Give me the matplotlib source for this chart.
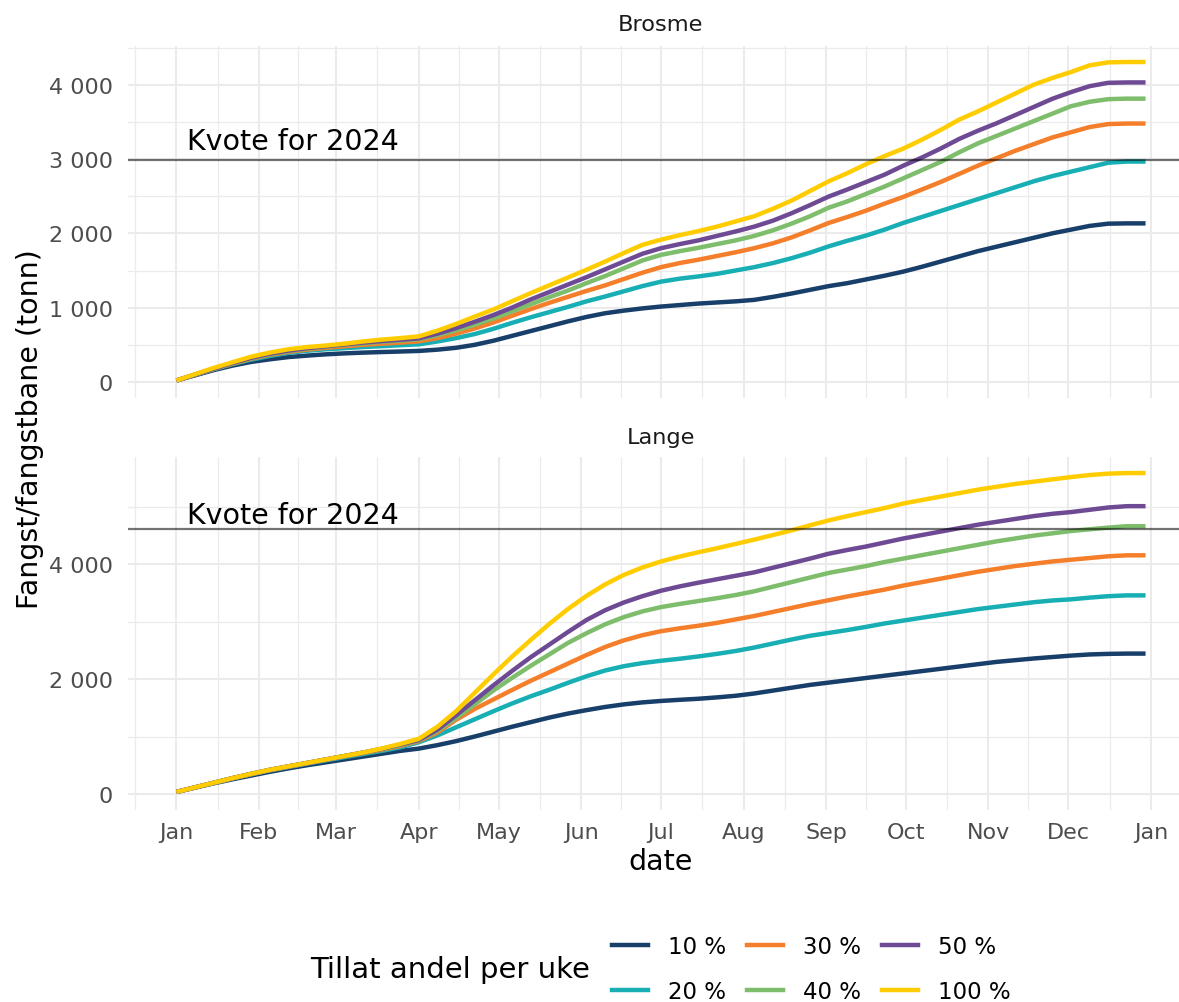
import numpy as np
import matplotlib
matplotlib.use("Agg")
import matplotlib.pyplot as plt
import matplotlib.dates as mdates
from matplotlib.ticker import FuncFormatter, FixedLocator
from matplotlib.lines import Line2D
import datetime as dt

# ---------------- data ----------------
start = dt.date(2024, 1, 1)
weeks = np.arange(53)
dates = [start + dt.timedelta(days=7 * int(w)) for w in weeks]

series_labels = ["10 %", "20 %", "30 %", "40 %", "50 %", "100 %"]
series_colors = ["#183F6A", "#17AFB4", "#F57E2B", "#7DBD6B", "#6D4A93", "#FFCC00"]

brosme_10 = [20, 90, 160, 220, 270, 305, 335, 355, 372, 385, 395, 403, 410, 418, 435, 460, 500, 555,
             620, 685, 750, 815, 875, 925, 960, 990, 1015, 1035, 1055, 1070, 1085, 1105, 1145, 1190,
             1240, 1290, 1330, 1380, 1430, 1485, 1550, 1620, 1690, 1760, 1820, 1880, 1940, 2000,
             2050, 2100, 2130, 2134, 2134]
brosme_20 = [20, 98, 172, 240, 300, 350, 392, 420, 440, 455, 470, 482, 495, 507, 545, 590, 645, 715,
             795, 870, 940, 1010, 1085, 1150, 1220, 1290, 1350, 1390, 1420, 1455, 1500, 1545, 1600,
             1665, 1740, 1825, 1900, 1970, 2050, 2140, 2220, 2300, 2380, 2460, 2540, 2620, 2700,
             2770, 2830, 2890, 2950, 2966, 2966]
brosme_30 = [20, 100, 175, 245, 312, 365, 405, 435, 460, 480, 500, 515, 530, 547, 590, 650, 720, 800,
             890, 980, 1065, 1145, 1225, 1300, 1385, 1470, 1545, 1600, 1645, 1695, 1745, 1800, 1865,
             1945, 2040, 2140, 2220, 2305, 2400, 2490, 2590, 2690, 2800, 2910, 3010, 3110, 3200,
             3290, 3360, 3430, 3470, 3477, 3477]
brosme_40 = [20, 100, 178, 250, 320, 372, 415, 448, 475, 500, 520, 540, 557, 575, 630, 695, 770, 855,
             950, 1045, 1140, 1230, 1330, 1425, 1530, 1635, 1710, 1760, 1805, 1855, 1905, 1965, 2040,
             2130, 2230, 2345, 2430, 2530, 2630, 2740, 2850, 2960, 3090, 3210, 3310, 3410, 3510,
             3610, 3710, 3770, 3805, 3812, 3812]
brosme_50 = [20, 100, 180, 255, 325, 380, 422, 455, 480, 505, 530, 550, 568, 587, 650, 725, 810, 900,
             1000, 1110, 1210, 1310, 1410, 1515, 1620, 1725, 1800, 1855, 1905, 1965, 2025, 2090, 2170,
             2270, 2380, 2495, 2590, 2690, 2790, 2910, 3020, 3140, 3270, 3380, 3480, 3590, 3700,
             3810, 3900, 3980, 4025, 4030, 4030]
brosme_100 = [20, 105, 190, 265, 340, 395, 440, 470, 490, 515, 545, 570, 590, 614, 690, 780, 880, 975,
              1085, 1195, 1300, 1405, 1510, 1620, 1735, 1845, 1915, 1975, 2030, 2090, 2160, 2230, 2330,
              2440, 2570, 2700, 2810, 2930, 3040, 3140, 3260, 3390, 3530, 3640, 3760, 3880, 4000,
              4090, 4170, 4260, 4300, 4305, 4305]

lange_10 = [35, 110, 185, 255, 320, 385, 445, 500, 550, 600, 650, 700, 750, 790, 850, 920, 1000, 1085,
            1170, 1250, 1330, 1400, 1460, 1515, 1560, 1595, 1620, 1640, 1658, 1682, 1710, 1750, 1800,
            1850, 1900, 1940, 1980, 2020, 2060, 2100, 2140, 2180, 2220, 2260, 2300, 2330, 2360,
            2385, 2410, 2430, 2440, 2445, 2445]
lange_20 = [35, 115, 193, 270, 342, 410, 470, 528, 585, 640, 695, 750, 810, 900, 1020, 1160, 1300, 1440,
            1575, 1700, 1815, 1935, 2050, 2150, 2225, 2280, 2320, 2355, 2395, 2440, 2490, 2550, 2620,
            2690, 2755, 2805, 2855, 2910, 2970, 3020, 3070, 3120, 3170, 3220, 3260, 3300, 3340,
            3370, 3390, 3420, 3445, 3459, 3459]
lange_30 = [35, 115, 195, 272, 345, 415, 475, 535, 595, 655, 712, 770, 835, 920, 1070, 1290, 1480, 1645,
            1810, 1970, 2120, 2270, 2420, 2560, 2675, 2765, 2835, 2885, 2930, 2980, 3040, 3100, 3170,
            3240, 3310, 3375, 3440, 3500, 3560, 3630, 3690, 3750, 3810, 3870, 3920, 3970, 4010,
            4050, 4080, 4110, 4140, 4157, 4157]
lange_40 = [35, 115, 195, 275, 350, 420, 480, 540, 600, 660, 718, 780, 850, 930, 1100, 1320, 1560, 1800,
            2020, 2230, 2430, 2630, 2800, 2955, 3080, 3180, 3255, 3310, 3360, 3410, 3465, 3530, 3610,
            3690, 3770, 3850, 3910, 3970, 4040, 4100, 4160, 4220, 4280, 4340, 4400, 4450, 4500,
            4540, 4580, 4610, 4640, 4664, 4664]
lange_50 = [35, 115, 195, 275, 350, 420, 480, 540, 600, 660, 720, 785, 860, 940, 1120, 1370, 1630, 1890,
            2140, 2380, 2600, 2820, 3030, 3200, 3335, 3445, 3540, 3615, 3680, 3740, 3800, 3860, 3940,
            4020, 4100, 4185, 4250, 4310, 4380, 4450, 4510, 4570, 4630, 4690, 4740, 4790, 4840,
            4880, 4910, 4950, 4990, 5013, 5013]
lange_100 = [35, 115, 195, 275, 350, 420, 480, 540, 600, 660, 720, 790, 870, 960, 1170, 1440, 1760, 2080,
             2390, 2680, 2960, 3220, 3450, 3650, 3815, 3945, 4050, 4135, 4210, 4280, 4355, 4430, 4510,
             4590, 4680, 4765, 4840, 4910, 4980, 5060, 5120, 5180, 5240, 5300, 5350, 5400, 5440,
             5480, 5520, 5555, 5580, 5590, 5590]

panels = ["Brosme", "Lange"]
panel_series = {
    "Brosme": [brosme_10, brosme_20, brosme_30, brosme_40, brosme_50, brosme_100],
    "Lange": [lange_10, lange_20, lange_30, lange_40, lange_50, lange_100],
}
quota = {"Brosme": 2980, "Lange": 4617}
quota_label = "Kvote for 2024"
y_major = {"Brosme": [0, 1000, 2000, 3000, 4000], "Lange": [0, 2000, 4000]}
y_minor = {"Brosme": [500, 1500, 2500, 3500, 4500], "Lange": [1000, 3000, 5000]}

# ---------------- figure ----------------
W, H = 1179, 1003
fig = plt.figure(figsize=(W / 100, H / 100), dpi=100)
plt.rcParams["font.family"] = ["DejaVu Sans"]

def rect(l, r, t, b):
    return [l / W, 1 - b / H, (r - l) / W, (b - t) / H]

axes = {
    "Brosme": fig.add_axes(rect(128, 1194, 47, 399)),
    "Lange": fig.add_axes(rect(128, 1194, 458, 811)),
}

month_starts = [dt.date(2024, m, 1) for m in range(1, 13)] + [dt.date(2025, 1, 1)]
mnum = mdates.date2num(month_starts)
mid_num = list((mnum[:-1] + mnum[1:]) / 2) + [mnum[0] - 15.5]
x0 = mdates.date2num(dates[0])
x1 = mdates.date2num(dates[-1])
xr = x1 - x0

fmt = FuncFormatter(lambda v, p: f"{int(round(v)):,}".replace(",", " "))

for name in panels:
    ax = axes[name]
    vals = panel_series[name]
    allv = np.concatenate([np.asarray(v) for v in vals])
    ymin, ymax = 0, allv.max()
    yr = ymax - ymin
    ax.set_ylim(ymin - 0.05 * yr, ymax + 0.05 * yr)
    ax.set_xlim(x0 - 0.05 * xr, x1 + 0.05 * xr)
    for s, c, lab in zip(vals, series_colors, series_labels):
        ax.plot(dates, s, color=c, lw=3.2, solid_capstyle="butt", solid_joinstyle="round",
                label=lab, zorder=3)
    ax.axhline(quota[name], color="black", alpha=0.55, lw=1.6, zorder=4)
    off = 160 if name == "Brosme" else 100
    ax.text(mdates.date2num(dt.date(2024, 1, 5)), quota[name] + off, quota_label,
            fontsize=20.5, color="black", va="baseline", ha="left", zorder=5)

    ax.xaxis.set_major_locator(FixedLocator(mnum))
    ax.xaxis.set_minor_locator(FixedLocator(mid_num))
    ax.yaxis.set_major_locator(FixedLocator(y_major[name]))
    ax.yaxis.set_minor_locator(FixedLocator(y_minor[name]))
    ax.yaxis.set_major_formatter(fmt)
    if name == "Lange":
        ax.set_xticklabels([d.strftime("%b") for d in month_starts])
    else:
        ax.set_xticklabels([])
    ax.grid(which="major", color="#EBEBEB", lw=1.5, zorder=0)
    ax.grid(which="minor", color="#EBEBEB", lw=0.9, zorder=0)
    ax.set_axisbelow(True)
    for sp in ax.spines.values():
        sp.set_visible(False)
    ax.tick_params(which="both", length=0)
    ax.tick_params(axis="y", labelsize=16, labelcolor="#4D4D4D", pad=11)
    ax.tick_params(axis="x", labelsize=16, labelcolor="#4D4D4D", pad=9)
    ax.set_facecolor("white")

fig.text(661 / W, 1 - 25 / H, "Brosme", ha="center", va="center", fontsize=16.2, color="#1A1A1A")
fig.text(661 / W, 1 - 438 / H, "Lange", ha="center", va="center", fontsize=16.2, color="#1A1A1A")
fig.text(661 / W, 1 - 862 / H, "date", ha="center", va="center", fontsize=20.5, color="black")
fig.text(30 / W, 1 - 429 / H, "Fangst/fangstbane (tonn)", ha="center", va="center",
         rotation=90, fontsize=20.5, color="black")

# legend
fig.text(310 / W, 1 - 970 / H, "Tillat andel per uke", ha="left", va="center", fontsize=21, color="black")
handles = [Line2D([], [], color=c, lw=3.2) for c in series_colors]
fig.legend(handles, series_labels, ncol=3, loc="center left",
           bbox_to_anchor=(612 / W, 1 - 970 / H), frameon=False, fontsize=16.5,
           handlelength=1.57, handletextpad=0.87, columnspacing=0.92, labelspacing=1.0,
           borderpad=0, borderaxespad=0)

fig.savefig("out.png", dpi=100, facecolor="white")
